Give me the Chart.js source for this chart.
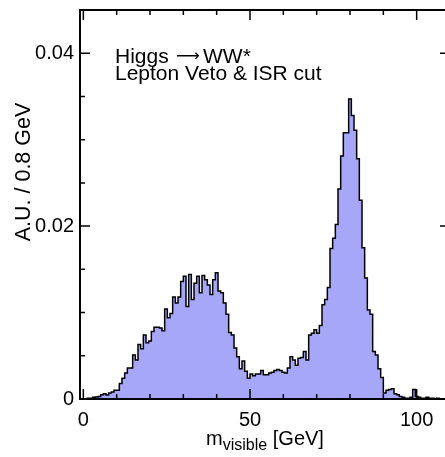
<!DOCTYPE html>
<html>
<head>
<meta charset="utf-8">
<script src="https://cdn.jsdelivr.net/npm/chart.js@4/dist/chart.umd.min.js"></script>
<style>
  html, body { margin: 0; padding: 0; background: #fff; overflow: hidden; }
</style>
</head>
<body>
<canvas id="mvisChart" width="456" height="457"></canvas>
<script>
// m_visible histogram, 0.8 GeV bins
const binLow = 0.4;
const binWidth = 0.8;
const binValues = [
  0.00004, 0.0001, 0.0001, 0.0002, 0.00023, 0.0003, 0.0005, 0.0006, 0.00045, 0.0007,
  0.0008, 0.0010, 0.0010, 0.0018, 0.0024, 0.0030, 0.0036, 0.0036, 0.0051, 0.0045,
  0.0063, 0.0058, 0.0074, 0.0065, 0.0067, 0.0078, 0.0083, 0.0083, 0.0082, 0.0079,
  0.0104, 0.0094, 0.0099, 0.0118, 0.0111, 0.0118, 0.0136, 0.0142, 0.0107, 0.0144,
  0.0115, 0.0134, 0.0142, 0.0123, 0.0143, 0.0138, 0.0132, 0.0121, 0.0138, 0.0146,
  0.0125, 0.0123, 0.0111, 0.0098, 0.0077, 0.0074, 0.0059, 0.0049, 0.0035, 0.0044,
  0.0032, 0.0024, 0.0029, 0.0027, 0.0029, 0.0029, 0.0033, 0.0028, 0.0028, 0.0030,
  0.0031, 0.0033, 0.0034, 0.0033, 0.0031, 0.0030, 0.0036, 0.0049, 0.0045, 0.0039,
  0.0047, 0.0048, 0.0055, 0.0045, 0.0074, 0.0076, 0.0080, 0.0076, 0.0085, 0.0109,
  0.0115, 0.0129, 0.0174, 0.0186, 0.0202, 0.0243, 0.0281, 0.0308, 0.0308, 0.0347,
  0.0328, 0.0311, 0.0278, 0.0230, 0.0175, 0.0140, 0.0103, 0.0098, 0.0055, 0.0051,
  0.0035, 0.0025, 0.0007, 0.0010, 0.0011, 0.0012, 0.0006, 0.0005, 0.0003, 0.0002,
  0.0001, 0.0001, 0.0002, 0.0011, 0.0003, 0.0002, 0.0001, 0.0001, 0.0002, 0.0001,
  0.0001, 0.0000, 0.0001, 0.0000, 0.0000
];

const xMajorTicks = [0, 50, 100];
const xMinorTicks = [10, 20, 30, 40, 60, 70, 80, 90];
const yMajorTicks = [0, 0.02, 0.04];
const yMinorTicks = [0.005, 0.01, 0.015, 0.025, 0.03, 0.035];

const infoParts = ['Higgs', '\u27F6', 'WW*'];
const infoLine2 = 'Lepton Veto & ISR cut';
const yTitle = 'A.U. / 0.8 GeV';

const FONT = '"Liberation Sans", Arial, Helvetica, sans-serif';
const ARROW_FONT = '"DejaVu Sans", sans-serif';

// step outline: start and end on the x axis
const points = [{ x: binLow, y: 0 }];
binValues.forEach((v, i) => points.push({ x: binLow + i * binWidth, y: v }));
points.push({ x: binLow + binValues.length * binWidth, y: binValues[binValues.length - 1] });
points.push({ x: binLow + binValues.length * binWidth, y: 0 });

const frameTicks = {
  id: 'frameTicks',
  afterDatasetsDraw(chart) {
    const { ctx, chartArea: a, scales: { x, y } } = chart;
    ctx.save();
    ctx.strokeStyle = '#000';
    ctx.lineWidth = 1.5;
    ctx.beginPath();
    const xt = (v, len) => {
      const px = x.getPixelForValue(v);
      ctx.moveTo(px, a.bottom); ctx.lineTo(px, a.bottom - len);
      ctx.moveTo(px, a.top); ctx.lineTo(px, a.top + len);
    };
    const yt = (v, len) => {
      const py = y.getPixelForValue(v);
      ctx.moveTo(a.left, py); ctx.lineTo(a.left + len, py);
      ctx.moveTo(a.right, py); ctx.lineTo(a.right - len, py);
    };
    xMajorTicks.forEach(v => xt(v, 10));
    xMinorTicks.forEach(v => xt(v, 5));
    yMajorTicks.forEach(v => yt(v, 10));
    yMinorTicks.forEach(v => yt(v, 5));
    ctx.stroke();
    ctx.lineWidth = 2;
    ctx.strokeRect(a.left, a.top, a.right - a.left, a.bottom - a.top);
    ctx.restore();
  }
};

const labels = {
  id: 'labels',
  afterDraw(chart) {
    const { ctx, chartArea: a } = chart;
    ctx.save();
    ctx.fillStyle = '#000';
    ctx.textBaseline = 'alphabetic';
    ctx.textAlign = 'left';

    // info text; long thin arrow sized to ~24px wide, like TLatex #rightarrow
    ctx.font = '21px ' + FONT;
    ctx.fillText(infoParts[0], 115, 63);
    ctx.font = '100px ' + ARROW_FONT;
    const arrowSize = 24 / (ctx.measureText(infoParts[1]).width / 100);
    ctx.font = arrowSize.toFixed(1) + 'px ' + ARROW_FONT;
    ctx.fillText(infoParts[1], 176, 61);
    ctx.font = '21px ' + FONT;
    ctx.fillText(infoParts[2], 203, 63);
    ctx.fillText(infoLine2, 115, 80);

    // x title with subscript
    const big = '20px ' + FONT, small = '16px ' + FONT;
    ctx.font = big;
    const wm = ctx.measureText('m').width;
    const wr = ctx.measureText(' [GeV]').width;
    ctx.font = small;
    const ws = ctx.measureText('visible').width;
    const cx = (a.left + a.right) / 2 - (wm + ws + wr) / 2;
    ctx.font = big;
    ctx.fillText('m', cx, 445);
    ctx.font = small;
    ctx.fillText('visible', cx + wm, 450);
    ctx.font = big;
    ctx.fillText(' [GeV]', cx + wm + ws, 445);

    // y title
    ctx.translate(30, 172);
    ctx.rotate(-Math.PI / 2);
    ctx.textAlign = 'center';
    ctx.font = '21.5px ' + FONT;
    ctx.fillText(yTitle, 0, 0);
    ctx.restore();
  }
};

const noPad = s => { s.paddingTop = s.paddingBottom = s.paddingLeft = s.paddingRight = 0; };

new Chart(document.getElementById('mvisChart'), {
  type: 'line',
  data: {
    datasets: [{
      data: points,
      stepped: true,
      fill: 'origin',
      backgroundColor: 'rgb(167,167,250)',
      borderColor: '#000',
      borderWidth: 1.5,
      pointRadius: 0,
      tension: 0
    }]
  },
  options: {
    responsive: false,
    animation: false,
    layout: { padding: { top: 10, right: 6, left: 0, bottom: 0 } },
    plugins: { legend: { display: false }, tooltip: { enabled: false } },
    scales: {
      x: {
        type: 'linear',
        min: -1,
        max: 110,
        grid: { display: false, drawTicks: false },
        border: { display: false },
        afterBuildTicks: s => { s.ticks = xMajorTicks.map(v => ({ value: v })); },
        afterFit: s => { s.height = 58; noPad(s); },
        ticks: {
          autoSkip: false,
          maxRotation: 0,
          padding: 9,
          color: '#000',
          font: { family: FONT, size: 20 },
          callback: v => String(v)
        }
      },
      y: {
        min: 0,
        max: 0.045,
        grid: { display: false, drawTicks: false },
        border: { display: false },
        afterBuildTicks: s => { s.ticks = yMajorTicks.map(v => ({ value: v })); },
        afterFit: s => { s.width = 80; noPad(s); },
        ticks: {
          autoSkip: false,
          padding: 6,
          color: '#000',
          font: { family: FONT, size: 20 },
          callback: v => (v === 0 ? '0' : v.toFixed(2))
        }
      }
    }
  },
  plugins: [frameTicks, labels]
});
</script>
</body>
</html>
